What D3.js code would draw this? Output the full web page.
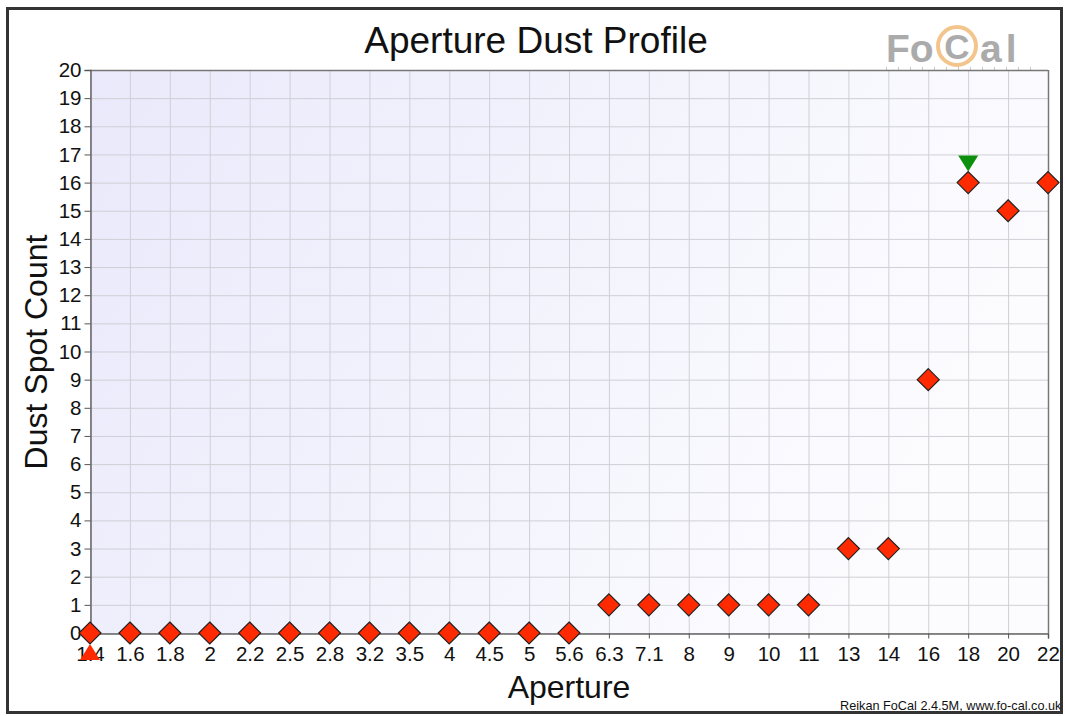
<!DOCTYPE html>
<html>
<head>
<meta charset="utf-8">
<script src="https://cdn.jsdelivr.net/npm/d3@7"></script>
<style>
  body { margin: 0; background: #fff; }
  svg { display: block; font-family: "Liberation Sans", Arial, Helvetica, sans-serif; }
</style>
</head>
<body>
<script>
// aperture dust profile - dust spots found at each aperture

const apertures = ["1.4", "1.6", "1.8", "2", "2.2", "2.5", "2.8", "3.2", "3.5", "4", "4.5", "5", "5.6",
                   "6.3", "7.1", "8", "9", "10", "11", "13", "14", "16", "18", "20", "22"];
const dustCounts = [0, 0, 0, 0, 0, 0, 0, 0, 0, 0, 0, 0, 0,
                    1, 1, 1, 1, 1, 1, 3, 3, 9, 16, 15, 16];
const yTicks = d3.range(0, 21);
const minAperture = "1.4";   // red up-arrow
const maxAperture = "18";    // green down-arrow

const W = 1065, H = 716;
const margin = {top: 70, right: 17, bottom: 83, left: 90};

const svg = d3.select("body").append("svg")
    .attr("width", W)
    .attr("height", H);

// background gradient for the plot
const defs = svg.append("defs");
const grad = defs.append("linearGradient")
    .attr("id", "bg")
    .attr("x1", "0%").attr("y1", "0%")
    .attr("x2", "100%").attr("y2", "30%");
grad.append("stop").attr("offset", "0%").attr("stop-color", "#e9e9fb");
grad.append("stop").attr("offset", "100%").attr("stop-color", "#fcfcff");

defs.append("clipPath").attr("id", "frameClip")
    .append("rect").attr("x", 9).attr("y", 10).attr("width", 1051).attr("height", 701);

// outer frame
svg.append("rect")
    .attr("x", 7.5).attr("y", 8.5)
    .attr("width", 1054).attr("height", 704)
    .attr("fill", "white")
    .attr("stroke", "#333")
    .attr("stroke-width", 3);

const x = d3.scalePoint()
    .domain(apertures)
    .range([margin.left, W - margin.right]);

const y = d3.scaleLinear()
    .domain([0, 20])
    .range([H - margin.bottom, margin.top]);

// FoCal logo (watermark) - sits behind the plot top edge
const logo = svg.append("g").attr("fill", "#ababab");
const ruler = logo.append("g").attr("stroke", "#c8c8c8").attr("stroke-width", 1);
d3.range(886, 1031, 12).forEach(t => {
    ruler.append("line").attr("x1", t + 0.5).attr("x2", t + 0.5).attr("y1", 67).attr("y2", 72);
});
logo.append("text").text("Fo").attr("x", 886).attr("y", 62)
    .style("font-size", "39px").style("font-weight", "bold");
logo.append("circle")
    .attr("cx", 957).attr("cy", 46).attr("r", 19)
    .attr("fill", "none").attr("stroke", "#f3c58c").attr("stroke-width", 4);
logo.append("text").text("C").attr("x", 957).attr("y", 59)
    .attr("text-anchor", "middle")
    .style("font-size", "35px").style("font-weight", "bold");
logo.append("text").text("al").attr("x", 980).attr("y", 62)
    .style("font-size", "39px").style("font-weight", "bold").style("letter-spacing", "4px");

svg.append("rect")
    .attr("x", margin.left).attr("y", margin.top)
    .attr("width", x.range()[1] - margin.left)
    .attr("height", y(0) - margin.top)
    .attr("fill", "url(#bg)");

// grid
svg.append("g")
    .selectAll("line")
    .data(yTicks)
    .enter()
    .append("line")
    .attr("x1", margin.left).attr("x2", W - margin.right)
    .attr("y1", d => y(d) + 0.5).attr("y2", d => y(d) + 0.5)
    .attr("stroke", "#cfcfd6")
    .attr("stroke-width", 1);

svg.append("g")
    .selectAll("line")
    .data(apertures)
    .enter()
    .append("line")
    .attr("x1", d => x(d) + 0.5).attr("x2", d => x(d) + 0.5)
    .attr("y1", margin.top).attr("y2", y(0))
    .attr("stroke", "#cfcfd6")
    .attr("stroke-width", 1);

// top and right border of the plot
svg.append("line")
    .attr("x1", margin.left).attr("x2", W - margin.right)
    .attr("y1", margin.top + 0.5).attr("y2", margin.top + 0.5)
    .attr("stroke", "#777").attr("stroke-width", 1.5);
svg.append("line")
    .attr("x1", W - margin.right + 0.5).attr("x2", W - margin.right + 0.5)
    .attr("y1", margin.top).attr("y2", y(0))
    .attr("stroke", "#777").attr("stroke-width", 1.5);

// axes
const yAxis = svg.append("g")
    .attr("transform", "translate(" + (margin.left + 0.5) + ",0)")
    .call(d3.axisLeft(y).tickValues(yTicks).tickSize(6).tickPadding(3).tickFormat(d3.format("d")));

const xAxis = svg.append("g")
    .attr("transform", "translate(0," + (y(0) + 0.5) + ")")
    .call(d3.axisBottom(x).tickSize(5).tickPadding(8));

[xAxis, yAxis].forEach(a => {
    a.select(".domain").attr("stroke", "#666").attr("stroke-width", 1.5);
    a.selectAll(".tick line").attr("stroke", "#555");
    a.selectAll("text")
        .attr("fill", "#111")
        .style("font-size", "20.5px")
        .style("font-family", "'Liberation Sans', Arial, sans-serif");
});
xAxis.selectAll("text").attr("dy", "0.72em");

// titles
svg.append("text")
    .text("Aperture Dust Profile")
    .attr("x", 536).attr("y", 53)
    .attr("text-anchor", "middle")
    .style("font-size", "37px")
    .attr("fill", "#111");

svg.append("text")
    .text("Aperture")
    .attr("x", 569).attr("y", 698)
    .attr("text-anchor", "middle")
    .style("font-size", "32px")
    .attr("fill", "#111");

svg.append("text")
    .text("Dust Spot Count")
    .attr("transform", "translate(47,352) rotate(-90)")
    .attr("text-anchor", "middle")
    .style("font-size", "32px")
    .attr("fill", "#111");

svg.append("text")
    .text("Reikan FoCal 2.4.5M, www.fo-cal.co.uk")
    .attr("x", 840).attr("y", 710)
    .attr("clip-path", "url(#frameClip)")
    .style("font-size", "12.7px")
    .attr("fill", "#111");

// points
const half = 11;
const diamond = "M0," + (-half) + "L" + half + ",0L0," + half + "L" + (-half) + ",0Z";

svg.append("g")
    .selectAll("path")
    .data(apertures)
    .enter()
    .append("path")
    .attr("d", diamond)
    .attr("transform", (d, i) => "translate(" + x(d) + "," + y(dustCounts[i]) + ")")
    .attr("fill", "#ff2a00")
    .attr("stroke", "#222")
    .attr("stroke-width", 1.2);

// max marker - green triangle above the point
const iMax = apertures.indexOf(maxAperture);
svg.append("path")
    .attr("d", "M-10,-16L10,-16L0,0Z")
    .attr("transform", "translate(" + x(maxAperture) + "," + (y(dustCounts[iMax]) - half) + ")")
    .attr("fill", "#0c8f0c");

// min marker - red triangle below the point
const iMin = apertures.indexOf(minAperture);
svg.append("path")
    .attr("d", "M-10,16L10,16L0,0Z")
    .attr("transform", "translate(" + x(minAperture) + "," + (y(dustCounts[iMin]) + half) + ")")
    .attr("fill", "#ff2a00");
</script>
</body>
</html>
